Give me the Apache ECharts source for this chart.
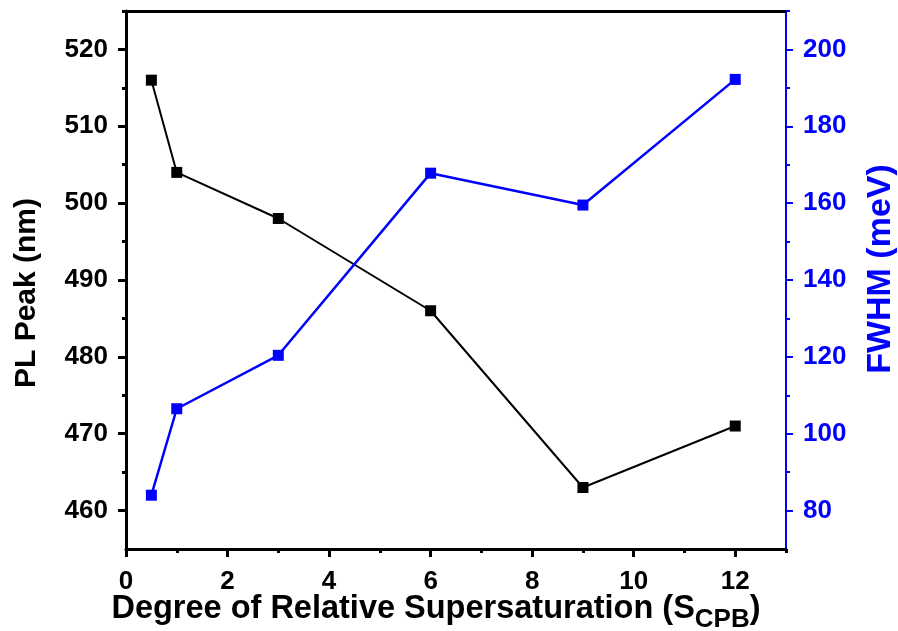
<!DOCTYPE html>
<html>
<head>
<meta charset="utf-8">
<script src="https://cdn.jsdelivr.net/npm/echarts@6/dist/echarts.min.js"></script>
<style>
  html, body { margin: 0; padding: 0; background: #fff; }
  #chart { width: 898px; height: 631px; }
</style>
</head>
<body>
<div id="chart"></div>
<script>
// data
const sValues = [0.5, 1, 3, 6, 9, 12];
const plPeak = [516, 504, 498, 486, 463, 471];     // nm, left axis
const fwhm = [84, 106.5, 120.4, 167.8, 159.5, 192.2]; // meV, right axis

// tick positions
const xMajor = [0, 2, 4, 6, 8, 10, 12];
const xMinor = [1, 3, 5, 7, 9, 11, 13];
const leftMajor = [460, 470, 480, 490, 500, 510, 520];
const leftMinor = [465, 475, 485, 495, 505, 515, 525];
const rightMajor = [80, 100, 120, 140, 160, 180, 200];
const rightMinor = [90, 110, 130, 150, 170, 190, 210];

const FONT = 'Liberation Sans, Arial, sans-serif';
const BLUE = '#0000ff';

let chart = echarts.init(document.getElementById('chart'), null, { renderer: 'canvas' });

function xBase(extra) {
  return Object.assign({
    type: 'value', min: 0, max: 13, gridIndex: 0,
    splitLine: { show: false }
  }, extra);
}
function yBase(extra) {
  return Object.assign({
    type: 'value', splitLine: { show: false }
  }, extra);
}

chart.setOption({
  animation: false,
  grid: { left: 126, right: 112, top: 11, bottom: 82, containLabel: false, outerBoundsMode: 'none' },
  xAxis: [
    xBase({
      position: 'bottom',
      axisLine: { onZero: false, lineStyle: { color: '#000', width: 3 } },
      axisTick: { customValues: xMajor, length: 8, inside: false, lineStyle: { color: '#000', width: 3 } },
      axisLabel: { customValues: xMajor, margin: 20, color: '#000', fontSize: 26, fontWeight: 'bold', fontFamily: FONT },
      name: '{a|Degree of Relative Supersaturation (S}{b|CPB}{a|)}',
      nameLocation: 'middle',
      nameMoveOverlap: false,
      nameGap: 44,
      nameTextStyle: {
        padding: [0, 40, 0, 0],
        rich: {
          a: { fontSize: 32.5, fontWeight: 'bold', fontFamily: FONT, color: '#000', verticalAlign: 'bottom' },
          b: { fontSize: 26, fontWeight: 'bold', fontFamily: FONT, color: '#000', verticalAlign: 'bottom', padding: [0, 0, -7, 0] }
        }
      }
    }),
    xBase({
      position: 'bottom',
      axisLine: { show: false, onZero: false },
      axisTick: { customValues: xMinor, length: 4, lineStyle: { color: '#000', width: 3 } },
      axisLabel: { show: false }
    }),
    xBase({
      position: 'top',
      axisLine: { onZero: false, lineStyle: { color: '#000', width: 3 } },
      axisTick: { show: false },
      axisLabel: { show: false }
    })
  ],
  yAxis: [
    yBase({
      position: 'left', min: 455, max: 525,
      axisLine: { show: true, onZero: false, lineStyle: { color: '#000', width: 3 } },
      axisTick: { show: true, customValues: leftMajor, length: 8, lineStyle: { color: '#000', width: 3 } },
      axisLabel: { customValues: leftMajor, margin: 18, color: '#000', fontSize: 26, fontWeight: 'bold', fontFamily: FONT },
      name: 'PL Peak (nm)',
      nameLocation: 'middle',
      nameRotate: 90,
      nameGap: 84,
      nameTextStyle: { fontSize: 30, fontWeight: 'bold', fontFamily: FONT, color: '#000', padding: [0, 26, 0, 0] }
    }),
    yBase({
      position: 'left', min: 455, max: 525,
      axisLine: { show: false, onZero: false },
      axisTick: { show: true, customValues: leftMinor, length: 4, lineStyle: { color: '#000', width: 3 } },
      axisLabel: { show: false }
    }),
    yBase({
      position: 'right', min: 70, max: 210,
      axisLine: { show: true, onZero: false, lineStyle: { color: BLUE, width: 2 } },
      axisTick: { show: true, customValues: rightMajor, length: 7, lineStyle: { color: BLUE, width: 2 } },
      axisLabel: { customValues: rightMajor, margin: 17, color: BLUE, fontSize: 26, fontWeight: 'bold', fontFamily: FONT },
      name: 'FWHM (meV)',
      nameLocation: 'middle',
      nameRotate: 90,
      nameGap: 78,
      nameTextStyle: { fontSize: 34, fontWeight: 'bold', fontFamily: FONT, color: BLUE, verticalAlign: 'top', padding: [0, 0, 0, 22] }
    }),
    yBase({
      position: 'right', min: 70, max: 210,
      axisLine: { show: false, onZero: false },
      axisTick: { show: true, customValues: rightMinor, length: 4, lineStyle: { color: BLUE, width: 2 } },
      axisLabel: { show: false }
    })
  ],
  series: [
    {
      name: 'PL Peak',
      type: 'line',
      xAxisIndex: 0, yAxisIndex: 0,
      data: sValues.map((x, i) => [x, plPeak[i]]),
      symbol: 'rect', symbolSize: 11,
      lineStyle: { color: '#000', width: 2 },
      itemStyle: { color: '#000' }
    },
    {
      name: 'FWHM',
      type: 'line',
      xAxisIndex: 0, yAxisIndex: 2,
      data: sValues.map((x, i) => [x, fwhm[i]]),
      symbol: 'rect', symbolSize: 11,
      lineStyle: { color: BLUE, width: 2.5 },
      itemStyle: { color: BLUE }
    }
  ]
});
</script>
</body>
</html>
